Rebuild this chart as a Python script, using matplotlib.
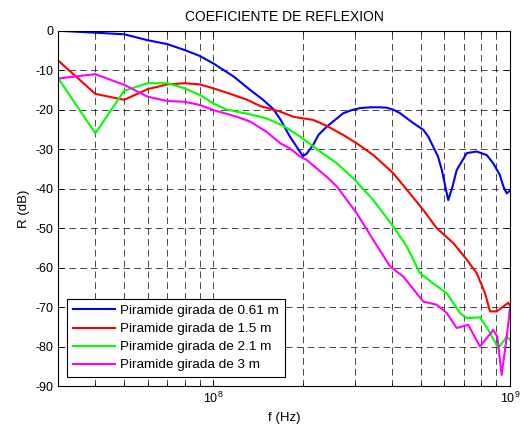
import numpy as np
import matplotlib.pyplot as plt

plt.rcParams['font.family'] = ['Liberation Sans', 'DejaVu Sans']
plt.rcParams['axes.unicode_minus'] = False
plt.rcParams['lines.scale_dashes'] = False

# measured reflection coefficient for each pyramid size
f_061 = [3e7, 4e7, 5e7, 6e7, 7e7, 8e7, 9e7, 1e8, 1.17e8, 1.33e8, 1.47e8, 1.59e8, 1.68e8,
         1.81e8, 2.0e8, 2.06e8, 2.17e8, 2.26e8, 2.41e8, 2.57e8, 2.74e8, 2.93e8, 3.12e8,
         3.38e8, 3.65e8, 3.84e8, 4.04e8, 4.26e8, 4.72e8, 5.1e8, 5.3e8, 5.51e8, 5.72e8,
         5.89e8, 6.19e8, 6.4e8, 6.61e8, 7.15e8, 7.72e8, 8.35e8, 8.78e8, 9.25e8, 9.5e8,
         9.75e8, 1e9]
r_061 = [0, -0.5, -0.9, -2.4, -3.4, -4.9, -6.4, -8.3, -11.6, -15.0, -17.5, -19.8, -22.4,
         -26.8, -31.7, -31.2, -28.9, -26.4, -24.3, -22.6, -20.9, -20.1, -19.6,
         -19.4, -19.4, -19.5, -20.0, -20.9, -23.4, -25.1, -26.8, -29.4, -31.9,
         -35.3, -42.9, -39.5, -35.3, -31.0, -30.6, -31.5, -33.6, -36.6, -39.5,
         -41.2, -40.5]

f_15 = [3e7, 4e7, 5e7, 6e7, 7e7, 8e7, 9e7, 1e8, 1.14e8, 1.3e8, 1.44e8, 1.68e8,
        1.86e8, 2.17e8, 2.41e8, 2.74e8, 3.04e8, 3.46e8, 4.04e8, 4.49e8, 5.1e8,
        5.66e8, 6.44e8, 7.15e8, 7.72e8, 8.24e8, 8.56e8, 9.02e8, 9.87e8, 1e9]
r_15 = [-7.6, -16.0, -17.5, -14.8, -13.6, -13.3, -13.6, -14.6, -16.0, -17.5, -19.1, -20.5,
        -21.8, -22.6, -24.1, -26.4, -28.5, -31.5, -36.1, -40.3, -45.4,
        -50.0, -53.8, -58.0, -61.4, -66.5, -71.1, -71.1, -68.9, -69.6]

f_21 = [3e7, 4e7, 5e7, 6e7, 7e7, 8e7, 9e7, 1e8, 1.1e8, 1.33e8, 1.51e8, 1.72e8,
        1.96e8, 2.29e8, 2.61e8, 3.0e8, 3.46e8, 4.04e8, 4.49e8, 4.97e8, 5.51e8,
        6.12e8, 6.78e8, 7.15e8, 7.92e8, 8.45e8, 9.13e8, 9.75e8, 1e9]
r_21 = [-12.1, -26.0, -15.2, -13.3, -13.3, -14.6, -16.3, -18.4, -19.9, -21.2, -22.2, -24.1,
        -26.8, -30.6, -33.6, -37.8, -42.9, -49.6, -54.7, -61.4, -64.0,
        -66.5, -71.5, -72.8, -72.6, -75.8, -80.4, -77.5, -78.3]

f_3 = [3e7, 4e7, 5e7, 6e7, 7e7, 8e7, 9e7, 1e8, 1.2e8, 1.33e8, 1.51e8, 1.68e8,
       1.81e8, 1.96e8, 2.06e8, 2.41e8, 2.61e8, 3.04e8, 3.46e8, 3.94e8, 4.37e8,
       5.1e8, 5.66e8, 6.12e8, 6.61e8, 7.23e8, 7.92e8, 8.78e8, 9.06e8, 9.37e8,
       9.75e8, 1e9]
r_3 = [-12.1, -11.0, -13.7, -16.7, -17.8, -18.0, -18.8, -20.1, -21.8, -23.0, -25.6, -28.5,
       -29.8, -31.9, -32.7, -37.0, -39.5, -46.2, -53.0, -59.7, -62.3,
       -68.6, -69.4, -71.5, -75.3, -74.5, -80.0, -75.8, -77.5, -87.2,
       -77.5, -70.3]

labels = ['Piramide girada de 0.61 m', 'Piramide girada de 1.5 m',
          'Piramide girada de 2.1 m', 'Piramide girada de 3 m']
colors = ['#0000ff', '#ff0000', '#00ff00', '#ff00ff']

fig = plt.figure(figsize=(5.26, 4.29), dpi=100)
ax = fig.add_axes([0.1109, 0.1002, 0.8587, 0.8282])

series = [(f_061, r_061), (f_15, r_15), (f_21, r_21), (f_3, r_3)]
for (f, r), lab, c in zip(series, labels, colors):
    ax.plot(f, r, color=c, lw=1.5, label=lab)

ax.set_xscale('log')
ax.set_xlim(3e7, 1e9)
ax.set_ylim(-90, 0)
ax.set_yticks(np.arange(-90, 1, 10))

ax.grid(True, which='both', color='k', linestyle=(0, (4.8, 3.0)), linewidth=0.5)
ax.tick_params(which='both', direction='in', top=True, right=True, labelsize=9)
ax.tick_params(which='major', length=4, width=0.6)
ax.tick_params(which='minor', length=2.5, width=0.6)
for s in ax.spines.values():
    s.set_linewidth(0.8)

ax.set_title('COEFICIENTE DE REFLEXION', fontsize=10, pad=7)
ax.set_xlabel('f (Hz)', fontsize=9.5)
ax.set_ylabel('R (dB)', fontsize=9.5)

leg = ax.legend(loc='lower left', bbox_to_anchor=(0.02, 0.024), borderaxespad=0,
                fontsize=9.7, handlelength=3.1, handletextpad=0.35, labelspacing=0.42,
                borderpad=0.45, fancybox=False, framealpha=1, edgecolor='k')
leg.get_frame().set_linewidth(0.8)

fig.savefig('out.png', dpi=100)
